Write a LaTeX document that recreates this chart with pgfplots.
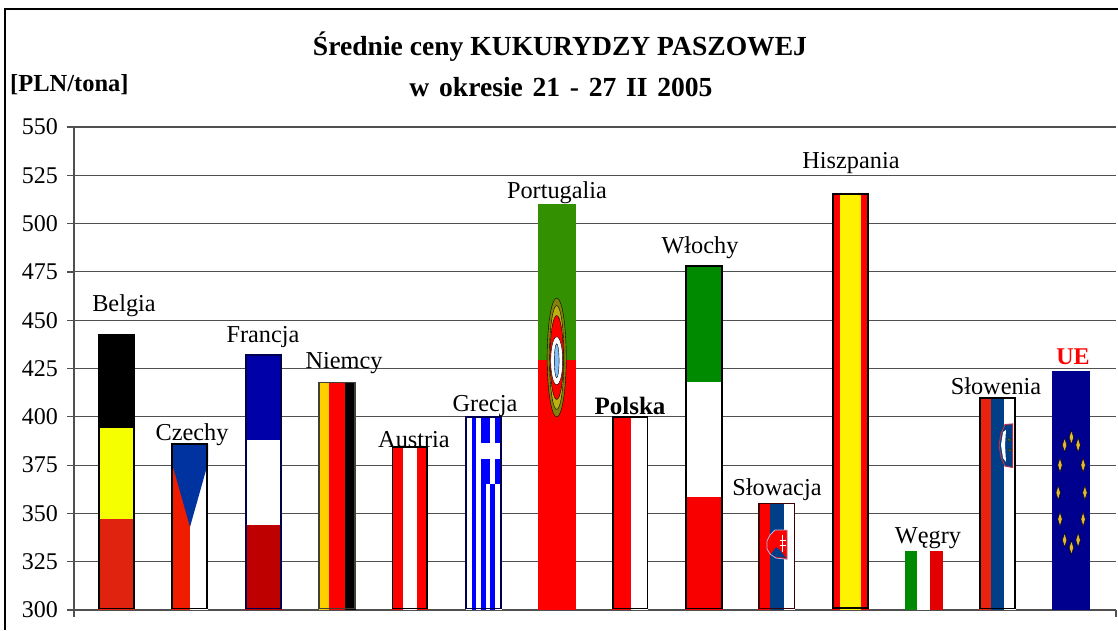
\documentclass[border=0pt]{standalone}
\usepackage{pgfplots}
\usepackage{fontspec}
\pgfplotsset{compat=1.18}
\usetikzlibrary{plotmarks}
\setmainfont{Liberation Serif}
\definecolor{gridc}{HTML}{505050}
\definecolor{flagblue}{HTML}{003F87}
\definecolor{flagred}{HTML}{FF0000}
\definecolor{itgreen}{HTML}{008A00}
% one stripe of a flag: colour, centre, width, top value
\newcommand{\flagbar}[4]{\addplot[ybar,bar shift=0pt,bar width=#3,fill=#1,draw=none] coordinates {(#2,#4)};}
% thin frame round a bar: colour, left, right, top value
\newcommand{\flagframe}[4]{\addplot[draw=#1,line width=1.7pt,fill=none,forget plot,sharp plot] coordinates {(#2,300.8) (#3,300.8) (#3,#4) (#2,#4)} -- cycle;}
\newcommand{\lab}[3]{\node[font=\fontsize{24.3}{27}\selectfont,inner sep=0pt] at (axis cs:#1,#2) {#3};}
\begin{document}
\begin{tikzpicture}[x=1pt,y=1pt]
\path[use as bounding box] (0,0) rectangle (1118,630);
\draw[black,line width=1.2pt] (5,0) -- (5,621) -- (1118,621);
\node[font=\bfseries\fontsize{27.6}{30}\selectfont] at (560,583) {Średnie ceny KUKURYDZY PASZOWEJ};
\node[font=\bfseries\fontsize{27.6}{30}\selectfont] at (561,543) {\spaceskip=9.7pt w okresie 21 - 27 II 2005};
\node[font=\bfseries\fontsize{24.5}{27}\selectfont,anchor=west,inner sep=0pt] at (10,545) {[PLN/tona]};
\begin{axis}[
  at={(74pt,20pt)},anchor=south west,
  scale only axis,width=1042pt,height=483pt,
  xmin=74,xmax=1116,ymin=300,ymax=550,
  axis lines*=left,
  axis line style={gridc,line width=1.2pt},
  ytick={300,325,350,375,400,425,450,475,500,525,550},
  xtick={74,1116},xticklabel=\empty,
  tick style={gridc,line width=1.2pt},
  tick align=outside,
  major tick length=7pt,
  ymajorgrids,
  grid style={gridc,line width=1.1pt},
  /pgf/number format/assume math mode=true,
  yticklabel style={font=\fontsize{24}{27}\selectfont,inner sep=0pt,xshift=-9pt},
]
% Belgia
\flagbar{black}{116.6}{36.8}{442.3}
\flagbar{{rgb,255:red,245;green,255;blue,0}}{116.6}{36.8}{394.4}
\flagbar{{rgb,255:red,224;green,35;blue,15}}{116.6}{36.8}{347}
\flagframe{black}{98.9}{134.3}{442.3}
% Czechy
\flagbar{white}{190}{36.6}{385.8}
\flagbar{{rgb,255:red,240;green,28;blue,0}}{180.7}{18}{385.8}
\addplot[fill={rgb,255:red,0;green,51;blue,160},draw=none] coordinates {(172,385.8) (208,385.8) (208,376) (190,343) (172,376)} -- cycle;
\flagframe{black}{172.1}{207.3}{385.8}
% Francja
\flagbar{white}{263.7}{36.6}{432}
\flagbar{{rgb,255:red,0;green,0;blue,168}}{263.7}{36.6}{432}
\flagbar{white}{263.7}{36.6}{388}
\flagbar{{rgb,255:red,190;green,0;blue,0}}{263.7}{36.6}{344}
\flagframe{black!70!blue}{246.1}{281.3}{432}
% Niemcy
\flagbar{{rgb,255:red,255;green,208;blue,0}}{324.2}{11.2}{417.8}
\flagbar{flagred}{337.2}{15.6}{417.8}
\flagbar{black}{350.5}{11}{417.8}
\flagframe{black!85!yellow}{318.7}{355.3}{417.8}
% Austria
\flagbar{flagred}{397.2}{10.8}{384.5}
\flagbar{white}{409.8}{14.5}{384.5}
\flagbar{flagred}{422.5}{11}{384.5}
\flagframe{black}{392.5}{427.3}{384.5}
% Grecja
\flagbar{white}{484}{36}{400}
\flagbar{blue}{474}{4.6}{400}
\flagbar{blue}{485.5}{9}{400}
\flagbar{blue}{497.3}{5}{400}
\flagbar{white}{490.5}{19}{386.2}
\flagbar{blue}{485.5}{9}{378}
\flagbar{blue}{497.3}{5}{378}
\flagbar{white}{490.5}{19}{365}
\flagbar{blue}{483.4}{4.6}{365}
\flagbar{blue}{492.4}{4.6}{365}
\flagframe{black!70!blue}{466}{501}{400}
% Portugalia
\flagbar{{rgb,255:red,51;green,144;blue,0}}{557}{38}{510}
\flagbar{flagred}{557}{38}{429.4}
\addplot[only marks,mark=*,mark size=59.5pt,mark options={xscale=.16,fill={rgb,255:red,130;green,130;blue,10},draw=none}] coordinates {(556.7,430.7)};
\addplot[only marks,mark=*,mark size=52pt,mark options={xscale=.14,fill={rgb,255:red,190;green,175;blue,20},draw=none}] coordinates {(556.7,430.7)};
\addplot[only marks,mark=*,mark size=42pt,mark options={xscale=.16,fill=flagred,draw=none}] coordinates {(556.7,430.7)};
\addplot[only marks,mark=*,mark size=24pt,mark options={xscale=.25,fill=white,draw=none}] coordinates {(556.7,429)};
\addplot[only marks,mark=*,mark size=17pt,mark options={xscale=.14,fill={rgb,255:red,130;green,190;blue,250},draw=none}] coordinates {(556.7,429)};
% Polska
\flagbar{white}{630}{36}{400}
\flagbar{flagred}{621.7}{18.8}{400}
\flagframe{black}{612.8}{647.5}{400}
% Wlochy
\flagbar{white}{704}{37}{478}
\flagbar{itgreen}{704}{37}{478}
\flagbar{white}{704}{37}{418}
\flagbar{{rgb,255:red,248;green,0;blue,0}}{704}{37}{358.6}
\flagframe{black}{686}{722}{478}
% Slowacja
\flagbar{white}{776.5}{37}{355.2}
\flagbar{flagred}{764.3}{12.5}{355.2}
\flagbar{flagblue}{776.8}{13.5}{355.2}
\addplot[fill=flagred,draw={rgb,255:red,170;green,190;blue,230},line width=.8pt] coordinates {(787.3,341.4) (775,341.4) (770,338.8) (767,335.7) (767,331.6) (770,329) (776,326.9) (787.3,326.2)} -- cycle;
\addplot[fill=flagblue,draw=none] coordinates {(771,329) (776,332.5) (780,331) (786,327) (776,327.4)} -- cycle;
\addplot[white,line width=1.3pt] coordinates {(782.3,339) (782.3,330)};
\addplot[white,line width=1.1pt] coordinates {(779.5,336) (785.5,336)};
\addplot[white,line width=1.1pt] coordinates {(779.5,333.4) (785.5,333.4)};
\flagframe{black!75!red}{758.7}{794.5}{355.2}
% Hiszpania
\flagbar{flagred}{850.4}{36.4}{515.3}
\flagbar{yellow}{850.7}{20.6}{515.3}
\addplot[draw=black,line width=2pt,fill=none] coordinates {(833,300.8) (867.8,300.8) (867.8,515.3) (833,515.3)} -- cycle;
% Wegry
\flagbar{itgreen}{910.8}{11.6}{330.5}
\flagbar{white}{923.5}{14}{330.5}
\flagbar{{rgb,255:red,226;green,0;blue,0}}{936.7}{12.5}{330.5}
% Slowenia
\flagbar{white}{997.3}{36.6}{409.7}
\flagbar{{rgb,255:red,232;green,36;blue,15}}{984.8}{11.6}{409.7}
\flagbar{flagblue}{997.3}{13.4}{409.7}
\addplot[fill=flagblue,draw={rgb,255:red,190;green,50;blue,70},line width=1pt] coordinates {(1012.5,396.3) (1005,396) (1001,391.1) (999,385.4) (1001,379.2) (1005,374.5) (1012.5,373.8)} -- cycle;
\addplot[fill=white,draw=none] coordinates {(1003,392.1) (1001,385.4) (1003,378.7) (1006,376.6) (1005,385.4) (1006,393.2)} -- cycle;
\addplot[only marks,mark=*,mark size=1.3pt,mark options={fill=yellow!70!olive,draw=none}] coordinates {(1009,388) (1010,382.8)};
\flagframe{black}{979.7}{1014.8}{409.7}
% UE
\flagbar{{rgb,255:red,0;green,0;blue,143}}{1071}{38}{423.7}
\addplot[only marks,mark=diamond*,mark size=7pt,mark options={xscale=.42,fill={rgb,255:red,225;green,185;blue,50},draw=none}] coordinates {
(1071.4,389.4) (1064.6,385.4) (1078.1,385.4) (1060,375) (1083.1,375) (1058.2,360.7)
(1084.9,360.7) (1060,347) (1083.1,347) (1064.6,336.2) (1078.1,336.2) (1071.4,332.3)};
% labels
\lab{124}{457.4}{Belgia}
\lab{192}{390.6}{Czechy}
\lab{263}{441.3}{Francja}
\lab{344}{427.9}{Niemcy}
\lab{414}{388}{Austria}
\lab{485}{405.6}{Grecja}
\lab{557}{515.9}{Portugalia}
\node[font=\bfseries\fontsize{25}{27}\selectfont,inner sep=0pt] at (axis cs:630,405.6) {Polska};
\lab{700}{487.4}{Włochy}
\lab{777}{362.1}{Słowacja}
\lab{851}{531.4}{Hiszpania}
\lab{928}{337.3}{Węgry}
\lab{996}{416}{Słowenia}
\node[font=\bfseries\fontsize{24}{27}\selectfont,text=red,inner sep=0pt] at (axis cs:1073,431) {UE};
\end{axis}
\end{tikzpicture}
\end{document}
